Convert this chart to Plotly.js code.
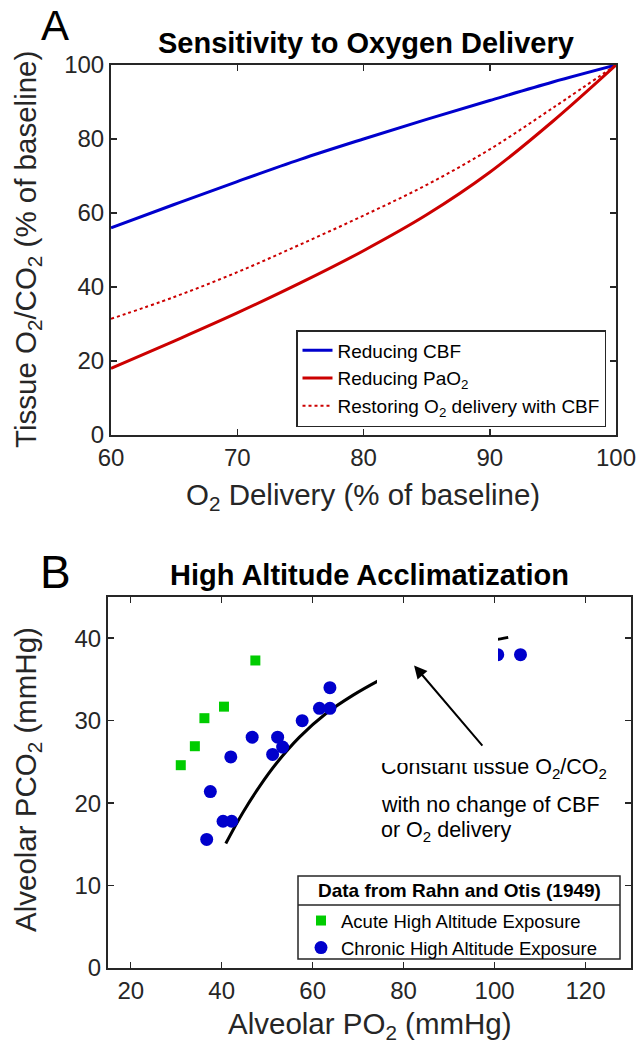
<!DOCTYPE html>
<html>
<head>
<meta charset="utf-8">
<script src="https://cdn.plot.ly/plotly-3.0.1.min.js"></script>
<style>html,body{margin:0;padding:0;background:#fff;}#chart{width:641px;height:1053px;}</style>
</head>
<body>
<div id="chart"></div>
<script>
// ---- Panel A data ----
const deliveryA = [60, 65, 70, 75, 80, 85, 90, 95, 100];
const reducingCBF = [56.0, 62.3, 68.5, 74.5, 80.0, 85.3, 90.4, 95.4, 100];
const reducingPaO2 = [18.0, 25.4, 33.0, 41.1, 49.8, 59.5, 71.0, 84.8, 100];
const restoringCBF = [31.4, 37.3, 44.0, 51.5, 59.3, 67.6, 77.2, 88.4, 100];
const ticksAx = [60, 70, 80, 90, 100];
const ticksAy = [0, 20, 40, 60, 80, 100];

// ---- Panel B data ----
const acutePO2 = [31.0, 34.1, 36.2, 40.5, 47.4];
const acutePCO2 = [24.6, 26.9, 30.3, 31.7, 37.3];
const chronicPO2 = [36.7, 40.3, 42.2, 37.5, 42.0, 46.7, 51.2, 52.3, 53.4, 57.7, 61.5, 63.8, 63.8, 100.7, 105.7];
const chronicPCO2 = [15.6, 17.8, 17.8, 21.4, 25.6, 28.0, 25.9, 28.0, 26.8, 30.0, 31.5, 31.5, 34.0, 38.0, 38.0];
const constPO2 = [40.9, 44.6, 48.3, 52.0, 57.1, 63.0, 68.9, 74.3, 80, 85, 90, 95, 100, 103];
const constPCO2 = [15.1, 18.8, 22.0, 24.8, 28.0, 30.9, 33.1, 34.8, 36.4, 37.7, 38.7, 39.4, 39.8, 40.1];
const ticksBx = [20, 40, 60, 80, 100, 120];
const ticksBy = [0, 10, 20, 30, 40];

const W = 641, H = 1053;
const px = v => v / W;
const py = v => 1 - v / H;
const FONT = 'Liberation Sans, Arial, sans-serif';
const AX = '#262626';

const traces = [
  {x: deliveryA, y: reducingCBF, mode: 'lines', name: 'Reducing CBF', line: {color: 'rgb(0,0,205)', width: 3, shape: 'spline'}, xaxis: 'x', yaxis: 'y', legend: 'legend'},
  {x: deliveryA, y: reducingPaO2, mode: 'lines', name: 'Reducing PaO<sub>2</sub>', line: {color: 'rgb(204,0,0)', width: 3, shape: 'spline'}, xaxis: 'x', yaxis: 'y', legend: 'legend'},
  {x: deliveryA, y: restoringCBF, mode: 'lines', name: 'Restoring O<sub>2</sub> delivery with CBF', line: {color: 'rgb(204,0,0)', width: 2, dash: 'dot', shape: 'spline'}, xaxis: 'x', yaxis: 'y', legend: 'legend'},
  {x: constPO2, y: constPCO2, mode: 'lines', showlegend: false, line: {color: '#000', width: 3, shape: 'spline'}, xaxis: 'x2', yaxis: 'y2'},
  {x: acutePO2, y: acutePCO2, mode: 'markers', name: 'Acute High Altitude Exposure', marker: {symbol: 'square', color: 'rgb(0,204,0)', size: 10}, xaxis: 'x2', yaxis: 'y2', legend: 'legend2'},
  {x: chronicPO2, y: chronicPCO2, mode: 'markers', name: 'Chronic High Altitude Exposure', marker: {symbol: 'circle', color: 'rgb(0,0,204)', size: 13}, xaxis: 'x2', yaxis: 'y2', legend: 'legend2'}
];

const axisBase = {
  showline: true, mirror: 'ticks', linecolor: AX, linewidth: 2,
  ticks: 'inside', ticklen: 6, tickwidth: 1.5, tickcolor: AX,
  showgrid: false, zeroline: false, fixedrange: true,
  tickfont: {family: FONT, size: 24, color: AX}
};

function paperText(x, y, text, size, extra) {
  return Object.assign({xref: 'paper', yref: 'paper', x: px(x), y: py(y), xanchor: 'center', yanchor: 'middle',
    text: text, showarrow: false, font: {family: FONT, size: size, color: '#000'}}, extra || {});
}

const layout = {
  width: W, height: H,
  margin: {l: 0, r: 0, t: 0, b: 0},
  paper_bgcolor: '#fff', plot_bgcolor: '#fff',
  font: {family: FONT, color: '#000'},
  xaxis: Object.assign({}, axisBase, {domain: [px(111), px(616)], range: [60, 100], tickvals: ticksAx, anchor: 'y'}),
  yaxis: Object.assign({}, axisBase, {domain: [py(435), py(65)], range: [0, 100], tickvals: ticksAy, anchor: 'x'}),
  xaxis2: Object.assign({}, axisBase, {domain: [px(108), px(631)], range: [15, 130], tickvals: ticksBx, anchor: 'y2'}),
  yaxis2: Object.assign({}, axisBase, {domain: [py(968), py(597)], range: [0, 45], tickvals: ticksBy, anchor: 'x2'}),
  showlegend: true,
  legend: {
    x: px(606), y: py(427), xanchor: 'right', yanchor: 'bottom',
    bgcolor: '#fff', bordercolor: AX, borderwidth: 1.5,
    font: {family: FONT, size: 19, color: '#000'}, tracegroupgap: 0
  },
  legend2: {
    x: px(301), y: py(902), xanchor: 'left', yanchor: 'top',
    bgcolor: 'rgba(0,0,0,0)', borderwidth: 0,
    font: {family: FONT, size: 18.5, color: '#000'}, tracegroupgap: 0
  },
  shapes: [
    // legend box of panel B with its title separator
    {type: 'rect', xref: 'paper', yref: 'paper', x0: px(298), x1: px(620), y0: py(959), y1: py(876), fillcolor: '#fff', line: {color: AX, width: 1.5}, layer: 'above'},
    {type: 'line', xref: 'paper', yref: 'paper', x0: px(298), x1: px(620), y0: py(905), y1: py(905), line: {color: AX, width: 1.5}, layer: 'above'}
  ],
  annotations: [
    paperText(55, 0, 'A', 42, {yanchor: 'top'}),
    paperText(55, 572, 'B', 46),
    paperText(366, 43, '<b>Sensitivity to Oxygen Delivery</b>', 29),
    paperText(369, 575, '<b>High Altitude Acclimatization</b>', 29),
    paperText(363, 497, 'O<sub>2</sub> Delivery (% of baseline)', 29.5, {font: {family: FONT, size: 29.5, color: AX}}),
    paperText(27, 250, 'Tissue O<sub>2</sub>/CO<sub>2</sub> (% of baseline)', 29.5, {textangle: -90, font: {family: FONT, size: 29.5, color: AX}}),
    paperText(370, 1025, 'Alveolar PO<sub>2</sub> (mmHg)', 29.5, {font: {family: FONT, size: 29.5, color: AX}}),
    paperText(27, 780, 'Alveolar PCO<sub>2</sub> (mmHg)', 29.5, {textangle: -90, font: {family: FONT, size: 29.5, color: AX}}),
    paperText(459, 890, '<b>Data from Rahn and Otis (1949)</b>', 19),
    // text lines of the note
    {xref: 'x2', yref: 'y2', x: 74.6, y: 24.2, xanchor: 'left', yanchor: 'middle', text: 'Constant tissue O<sub>2</sub>/CO<sub>2</sub>', showarrow: false, font: {family: FONT, size: 21.5, color: '#000'}},
    {xref: 'x2', yref: 'y2', x: 74.6, y: 19.8, xanchor: 'left', yanchor: 'middle', text: 'with no change of CBF', showarrow: false, font: {family: FONT, size: 21.5, color: '#000'}},
    {xref: 'x2', yref: 'y2', x: 74.6, y: 16.5, xanchor: 'left', yanchor: 'middle', text: 'or O<sub>2</sub> delivery', showarrow: false, font: {family: FONT, size: 21.5, color: '#000'}},
    // white text box background that hides part of the plot
    {xref: 'x2', yref: 'y2', x: 74.2, y: 24.9, xanchor: 'left', yanchor: 'bottom', text: '&nbsp;', width: 121, height: 145, bgcolor: '#fff', borderpad: 0, borderwidth: 0, showarrow: false},
    // arrow
    {xref: 'x2', yref: 'y2', x: 82.3, y: 36.7, axref: 'x2', ayref: 'y2', ax: 97.6, ay: 26.8, text: '', showarrow: true, arrowhead: 2, arrowsize: 1.3, arrowwidth: 2, arrowcolor: '#000', standoff: 0}
  ]
};

Plotly.newPlot('chart', traces, layout, {staticPlot: true, displayModeBar: false});
</script>
</body>
</html>
